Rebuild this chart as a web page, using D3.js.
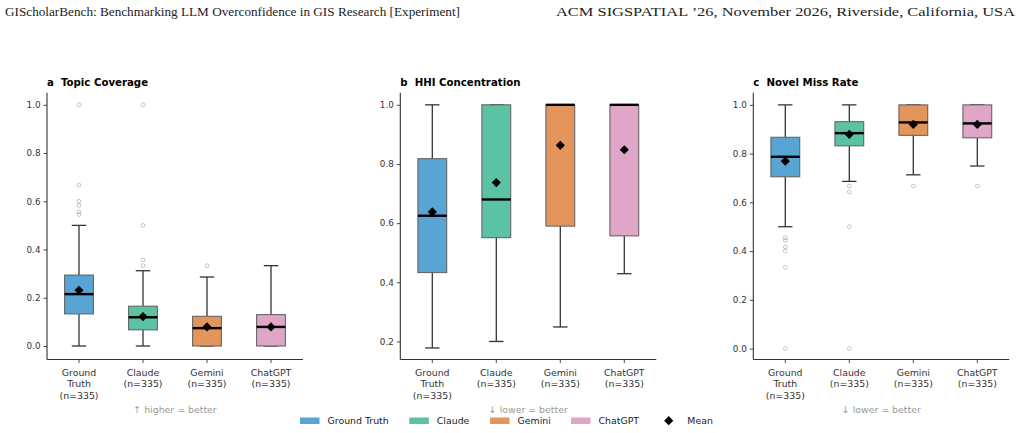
<!DOCTYPE html>
<html>
<head>
<meta charset="utf-8">
<script src="https://cdn.jsdelivr.net/npm/d3@7"></script>
<style>
  body { margin: 0; background: #fff; }
  svg { display: block; }
</style>
</head>
<body>
<svg width="1021" height="433"></svg>
<script>
// models, in plot order
var models = ["Ground Truth", "Claude", "Gemini", "ChatGPT"];
var tickLabels = [["Ground", "Truth", "(n=335)"], ["Claude", "(n=335)"], ["Gemini", "(n=335)"], ["ChatGPT", "(n=335)"]];
var colours = ["#58a4d2", "#5bc2a3", "#e3955b", "#dfa6c8"];

// per model: [whisker low, q1, median, q3, whisker high, mean]
var coverageStats = [
    [0.0, 0.133, 0.215, 0.294, 0.5, 0.231],
    [0.0, 0.067, 0.119, 0.165, 0.312, 0.122],
    [0.0, 0.0, 0.074, 0.123, 0.286, 0.079],
    [0.0, 0.0, 0.079, 0.13, 0.333, 0.079]
];
var coverageOutliers = [
    [1.0, 0.667, 0.6, 0.583, 0.556, 0.545],
    [1.0, 0.5, 0.357, 0.333],
    [0.333],
    []
];

var hhiStats = [
    [0.178, 0.433, 0.625, 0.818, 1.0, 0.638],
    [0.2, 0.551, 0.68, 1.0, 1.0, 0.737],
    [0.249, 0.59, 1.0, 1.0, 1.0, 0.863],
    [0.429, 0.557, 1.0, 1.0, 1.0, 0.848]
];
var hhiOutliers = [[], [], [], []];

var missStats = [
    [0.5, 0.705, 0.787, 0.867, 1.0, 0.769],
    [0.686, 0.832, 0.884, 0.931, 1.0, 0.879],
    [0.713, 0.875, 0.928, 1.0, 1.0, 0.92],
    [0.749, 0.865, 0.924, 1.0, 1.0, 0.92]
];
var missOutliers = [
    [0.455, 0.444, 0.417, 0.4, 0.333, 0.0],
    [0.667, 0.643, 0.5, 0.0],
    [0.667],
    [0.667]
];

var coverageTicks = [0.0, 0.2, 0.4, 0.6, 0.8, 1.0];
var hhiTicks = [0.2, 0.4, 0.6, 0.8, 1.0];
var missTicks = [0.0, 0.2, 0.4, 0.6, 0.8, 1.0];

var svg = d3.select("svg");
var font = "DejaVu Sans, sans-serif";

// running header
svg.append("text")
    .attr("x", 5).attr("y", 16)
    .attr("textLength", 455).attr("lengthAdjust", "spacingAndGlyphs")
    .style("font-family", "Liberation Serif, serif").style("font-size", "13px").style("fill", "#222")
    .text("GIScholarBench: Benchmarking LLM Overconfidence in GIS Research [Experiment]");
svg.append("text")
    .attr("x", 1015).attr("y", 16)
    .attr("text-anchor", "end")
    .attr("textLength", 459).attr("lengthAdjust", "spacingAndGlyphs")
    .style("font-family", "Liberation Serif, serif").style("font-size", "13px").style("fill", "#222")
    .text("ACM SIGSPATIAL \u201926, November 2026, Riverside, California, USA");

var panels = [
    { left: 47, title: "a  Topic Coverage", stats: coverageStats, out: coverageOutliers, dom: [-0.056, 1.05], ticks: coverageTicks, note: "\u2191 higher = better" },
    { left: 400.3, title: "b  HHI Concentration", stats: hhiStats, out: hhiOutliers, dom: [0.139, 1.041], ticks: hhiTicks, note: "\u2193 lower = better" },
    { left: 753.3, title: "c  Novel Miss Rate", stats: missStats, out: missOutliers, dom: [-0.045, 1.05], ticks: missTicks, note: "\u2193 lower = better" }
];

var plotTop = 92.7, plotBottom = 359.5, plotW = 256;

panels.forEach(function (p) {
    var g = svg.append("g").attr("transform", "translate(" + p.left + ",0)");

    var x = d3.scaleBand().domain(models).range([0, plotW]);
    var y = d3.scaleLinear().domain(p.dom).range([plotBottom, plotTop]);
    var bw = x.bandwidth() * 0.45;

    // title
    g.append("text")
        .attr("x", 0).attr("y", 86)
        .style("white-space", "pre")
        .style("font-family", font).style("font-size", "10.2px").style("font-weight", "bold")
        .text(p.title);

    // boxes
    var box = g.selectAll(".box")
        .data(p.stats)
        .enter().append("g")
        .attr("class", "box")
        .attr("transform", function (d, i) { return "translate(" + (x(models[i]) + x.bandwidth() / 2) + ",0)"; });

    // whiskers
    box.append("line")
        .attr("y1", function (d) { return y(d[0]); }).attr("y2", function (d) { return y(d[1]); })
        .attr("stroke", "#333").attr("stroke-width", 1.3);
    box.append("line")
        .attr("y1", function (d) { return y(d[3]); }).attr("y2", function (d) { return y(d[4]); })
        .attr("stroke", "#333").attr("stroke-width", 1.3);
    box.append("line")
        .attr("x1", -bw / 4).attr("x2", bw / 4)
        .attr("y1", function (d) { return y(d[0]); }).attr("y2", function (d) { return y(d[0]); })
        .attr("stroke", "#333").attr("stroke-width", 1.3);
    box.append("line")
        .attr("x1", -bw / 4).attr("x2", bw / 4)
        .attr("y1", function (d) { return y(d[4]); }).attr("y2", function (d) { return y(d[4]); })
        .attr("stroke", "#333").attr("stroke-width", 1.3);

    box.append("rect")
        .attr("x", -bw / 2).attr("width", bw)
        .attr("y", function (d) { return y(d[3]); })
        .attr("height", function (d) { return y(d[1]) - y(d[3]); })
        .attr("fill", function (d, i) { return colours[i]; })
        .attr("stroke", "#666").attr("stroke-width", 1.1);

    // median
    box.append("line")
        .attr("x1", -bw / 2).attr("x2", bw / 2)
        .attr("y1", function (d) { return y(d[2]); }).attr("y2", function (d) { return y(d[2]); })
        .attr("stroke", "#000").attr("stroke-width", 2.4);

    // outliers
    box.each(function (d, i) {
        d3.select(this).selectAll("circle")
            .data(p.out[i])
            .enter().append("circle")
            .attr("cy", function (v) { return y(v); })
            .attr("r", 1.9)
            .attr("fill", "none")
            .attr("stroke", "#999").attr("stroke-opacity", 0.7).attr("stroke-width", 0.8);
    });

    // mean
    box.append("path")
        .attr("d", d3.symbol().type(d3.symbolSquare).size(42))
        .attr("transform", function (d) { return "translate(0," + y(d[5]) + ") rotate(45)"; })
        .attr("fill", "#000");

    // axes
    var yAxis = g.append("g")
        .call(d3.axisLeft(y).tickValues(p.ticks).tickFormat(d3.format(".1f")).tickSize(3.5).tickPadding(3));
    var xAxis = g.append("g")
        .attr("transform", "translate(0," + plotBottom + ")")
        .call(d3.axisBottom(x).tickSize(3.5).tickFormat(""));
    [yAxis, xAxis].forEach(function (a) {
        a.select(".domain").attr("stroke", "#333").attr("stroke-width", 1.1);
        a.selectAll(".tick line").attr("stroke", "#333").attr("stroke-width", 0.9);
        a.selectAll("text").style("font-family", font).style("font-size", "8.8px").style("fill", "#333");
    });
    yAxis.select(".domain").attr("d", "M0," + plotTop + "V" + plotBottom);
    xAxis.select(".domain").attr("d", "M0,0H" + plotW);

    // category labels
    xAxis.selectAll(".tick").each(function (d, i) {
        var t = d3.select(this).append("text")
            .attr("y", 16)
            .attr("text-anchor", "middle")
            .style("font-family", font).style("font-size", "9.4px").style("fill", "#333");
        tickLabels[i].forEach(function (line, k) {
            t.append("tspan").attr("x", 0).attr("dy", k === 0 ? 0 : 11.5).text(line);
        });
    });

    g.append("text")
        .attr("x", plotW / 2).attr("y", 413)
        .attr("text-anchor", "middle")
        .style("font-family", font).style("font-size", "9.4px").style("fill", "#999")
        .text(p.note);
});

// legend
var legendX = [300, 409.3, 490, 571];
var legend = svg.append("g").attr("class", "legend");
models.forEach(function (m, i) {
    legend.append("rect")
        .attr("x", legendX[i]).attr("y", 417.5)
        .attr("width", 19.5).attr("height", 6.5)
        .attr("fill", colours[i]);
    legend.append("text")
        .attr("x", legendX[i] + 27.5).attr("y", 424.3)
        .style("font-family", font).style("font-size", "9.4px").style("fill", "#222")
        .text(m);
});
legend.append("path")
    .attr("d", d3.symbol().type(d3.symbolSquare).size(42))
    .attr("transform", "translate(668.7,420.7) rotate(45)")
    .attr("fill", "#000");
legend.append("text")
    .attr("x", 687.3).attr("y", 424.3)
    .style("font-family", font).style("font-size", "9.4px").style("fill", "#222")
    .text("Mean");
</script>
</body>
</html>
